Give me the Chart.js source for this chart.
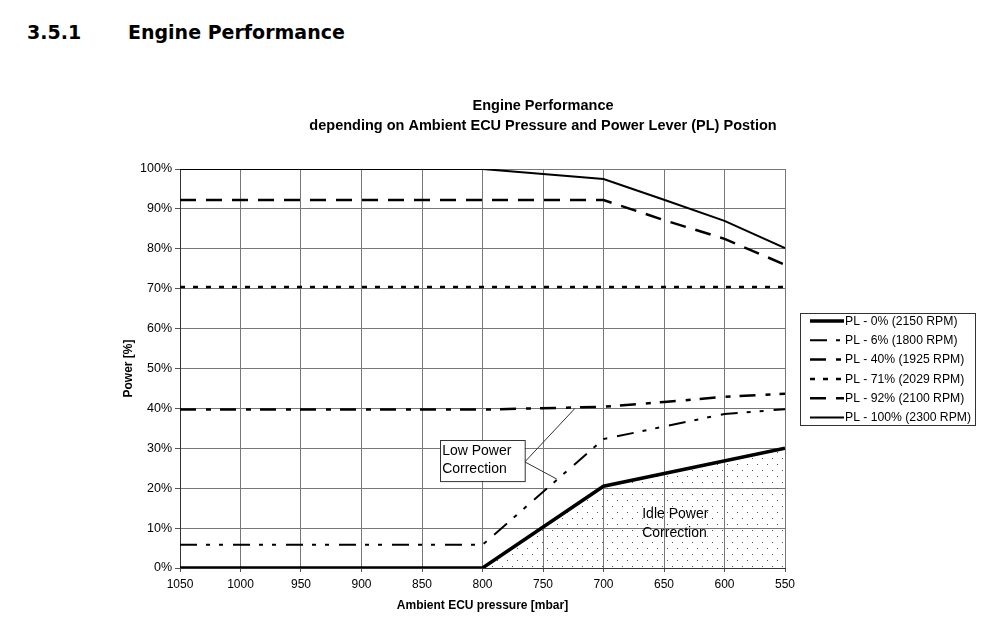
<!DOCTYPE html>
<html>
<head>
<meta charset="utf-8">
<script src="https://cdn.jsdelivr.net/npm/chart.js@4.4.0/dist/chart.umd.min.js"></script>
<style>
  html, body { margin: 0; padding: 0; background: #fff; }
  body { width: 1000px; height: 627px; position: relative; overflow: hidden; }
  .hdr { position: absolute; top: 21px; font: bold 19px 'DejaVu Sans', Verdana, sans-serif; color: #000; }
  #wrap { position: absolute; left: 100px; top: 0; width: 886px; height: 627px; }
</style>
</head>
<body>
<span class="hdr" style="left:27px">3.5.1</span>
<span class="hdr" style="left:128px">Engine Performance</span>
<div id="wrap"><canvas id="enginePerf" width="886" height="627"></canvas></div>

<script>
  // ambient pressure [mbar] / power [%] per power lever position
  const pl0X = [1050, 800, 700, 550];
  const pl0Y = [0, 0, 20.5, 30];
  const pl6X = [1050, 800, 700, 600, 550];
  const pl6Y = [5.8, 5.8, 32.3, 38.6, 39.8];
  const pl40X = [1050, 800, 700, 650, 600, 550];
  const pl40Y = [39.7, 39.7, 40.4, 41.6, 42.9, 43.7];
  const pl71X = [1050, 550];
  const pl71Y = [70.4, 70.4];
  const pl92X = [1050, 700, 650, 600, 550];
  const pl92Y = [92.2, 92.2, 87.2, 82.5, 76.0];
  const pl100X = [1050, 800, 700, 650, 600, 550];
  const pl100Y = [100, 100, 97.5, 92.3, 87.0, 80.2];

  const seriesLabels = ['PL - 0% (2150 RPM)', 'PL - 6% (1800 RPM)', 'PL - 40% (1925 RPM)',
    'PL - 71% (2029 RPM)', 'PL - 92% (2100 RPM)', 'PL - 100% (2300 RPM)'];

  const pts = (xs, ys) => xs.map((x, i) => ({ x: x, y: ys[i] }));

  // dotted fill for the idle power area
  const pat = document.createElement('canvas');
  pat.width = 10; pat.height = 12;
  const pctx = pat.getContext('2d');
  pctx.fillStyle = '#555';
  pctx.fillRect(2, 2, 1, 1);
  pctx.fillRect(7, 8, 1, 1);
  const ctx = document.getElementById('enginePerf').getContext('2d');
  const dots = ctx.createPattern(pat, 'repeat');

  Chart.defaults.font.family = "'Liberation Sans', Arial, sans-serif";
  Chart.defaults.color = '#000';

  // legend box + text notes
  const notes = {
    id: 'notes',
    afterDatasetsDraw(chart) {
      const c = chart.ctx, x = chart.scales.x, y = chart.scales.y;
      c.save();
      // Low Power Correction
      const bx1 = x.getPixelForValue(835), bx2 = x.getPixelForValue(765);
      const by1 = y.getPixelForValue(32.1), by2 = y.getPixelForValue(21.8);
      c.strokeStyle = '#333'; c.lineWidth = 1;
      c.beginPath();
      c.moveTo(bx2, y.getPixelForValue(26.6));
      c.lineTo(x.getPixelForValue(723.6), y.getPixelForValue(40.0));
      c.moveTo(bx2, y.getPixelForValue(26.6));
      c.lineTo(x.getPixelForValue(738.7), y.getPixelForValue(22.3));
      c.stroke();
      c.fillStyle = '#fff';
      c.fillRect(bx1, by1, bx2 - bx1, by2 - by1);
      c.strokeRect(Math.round(bx1) + 0.5, Math.round(by1) + 0.5, bx2 - bx1, by2 - by1);
      c.fillStyle = '#000';
      c.font = "14px 'Liberation Sans', Arial, sans-serif";
      c.textBaseline = 'middle';
      c.textAlign = 'left';
      c.fillText('Low Power', bx1 + 2, by1 + 11);
      c.fillText('Correction', bx1 + 2, by1 + 29);
      // Idle Power Correction
      const ix = x.getPixelForValue(668);
      c.fillText('Idle Power', ix, y.getPixelForValue(13.5));
      c.fillText('Correction', ix, y.getPixelForValue(8.8));
      c.restore();
    },
    afterDraw(chart) {
      const c = chart.ctx;
      c.save();
      c.strokeStyle = '#333'; c.lineWidth = 1;
      c.strokeRect(700.5, 313.5, 175, 112);
      c.font = "12.2px 'Liberation Sans', Arial, sans-serif";
      c.textBaseline = 'middle';
      c.fillStyle = '#000';
      chart.data.datasets.forEach((ds, i) => {
        const ly = 321 + i * 19.3;
        c.setLineDash(ds.borderDash || []);
        c.lineWidth = ds.borderWidth;
        c.strokeStyle = '#000';
        c.beginPath();
        c.moveTo(710, ly); c.lineTo(744, ly);
        c.stroke();
        c.fillText(ds.label, 745, ly + 0.5);
      });
      c.restore();
    }
  };

  new Chart(ctx, {
    type: 'line',
    data: {
      datasets: [
        { label: seriesLabels[0], data: pts(pl0X, pl0Y), borderWidth: 3.5, fill: 'origin', backgroundColor: dots },
        { label: seriesLabels[1], data: pts(pl6X, pl6Y), borderWidth: 2, borderDash: [17, 9, 4, 9, 4, 10] },
        { label: seriesLabels[2], data: pts(pl40X, pl40Y), borderWidth: 2.5, borderDash: [16, 10, 5, 9] },
        { label: seriesLabels[3], data: pts(pl71X, pl71Y), borderWidth: 2.5, borderDash: [5, 8] },
        { label: seriesLabels[4], data: pts(pl92X, pl92Y), borderWidth: 2.5, borderDash: [16, 10] },
        { label: seriesLabels[5], data: pts(pl100X, pl100Y), borderWidth: 2 }
      ]
    },
    options: {
      responsive: false,
      animation: false,
      borderColor: '#000',
      elements: {
        line: { borderColor: '#000', tension: 0, borderCapStyle: 'butt' },
        point: { radius: 0, hoverRadius: 0 }
      },
      plugins: {
        legend: { display: false },
        tooltip: { enabled: false },
        title: {
          display: true,
          text: ['Engine Performance', 'depending on Ambient ECU Pressure and Power Lever (PL) Postion'],
          font: { size: 14.5, weight: 'bold', lineHeight: '20px' },
          padding: { top: 96, bottom: 33 },
          color: '#000'
        }
      },
      scales: {
        x: {
          type: 'linear',
          min: 550, max: 1050, reverse: true,
          ticks: { stepSize: 50, callback: v => String(v), font: { size: 12 }, padding: 5, color: '#000' },
          grid: { color: '#777', tickLength: 4, tickColor: '#555' },
          border: { color: '#333' },
          title: { display: true, text: 'Ambient ECU pressure [mbar]', font: { size: 12, weight: 'bold' }, padding: { top: 4, bottom: 14 }, color: '#000' },
          afterFit(s) { s.height = 59; }
        },
        y: {
          min: 0, max: 100,
          ticks: { stepSize: 10, callback: v => v + '%', font: { size: 12.5 }, padding: 3, color: '#000' },
          grid: { color: '#777', tickLength: 5, tickColor: '#555' },
          border: { color: '#333' },
          title: { display: true, text: 'Power [%]', font: { size: 12, weight: 'bold' }, padding: { top: 21, bottom: 4 }, color: '#000' },
          afterFit(s) { s.width = 80; }
        },
        side: {
          position: 'right',
          display: true,
          grid: { display: false },
          ticks: { display: false },
          border: { display: false },
          afterFit(s) { s.width = 201; }
        }
      }
    },
    plugins: [notes]
  });
</script>
</body>
</html>
